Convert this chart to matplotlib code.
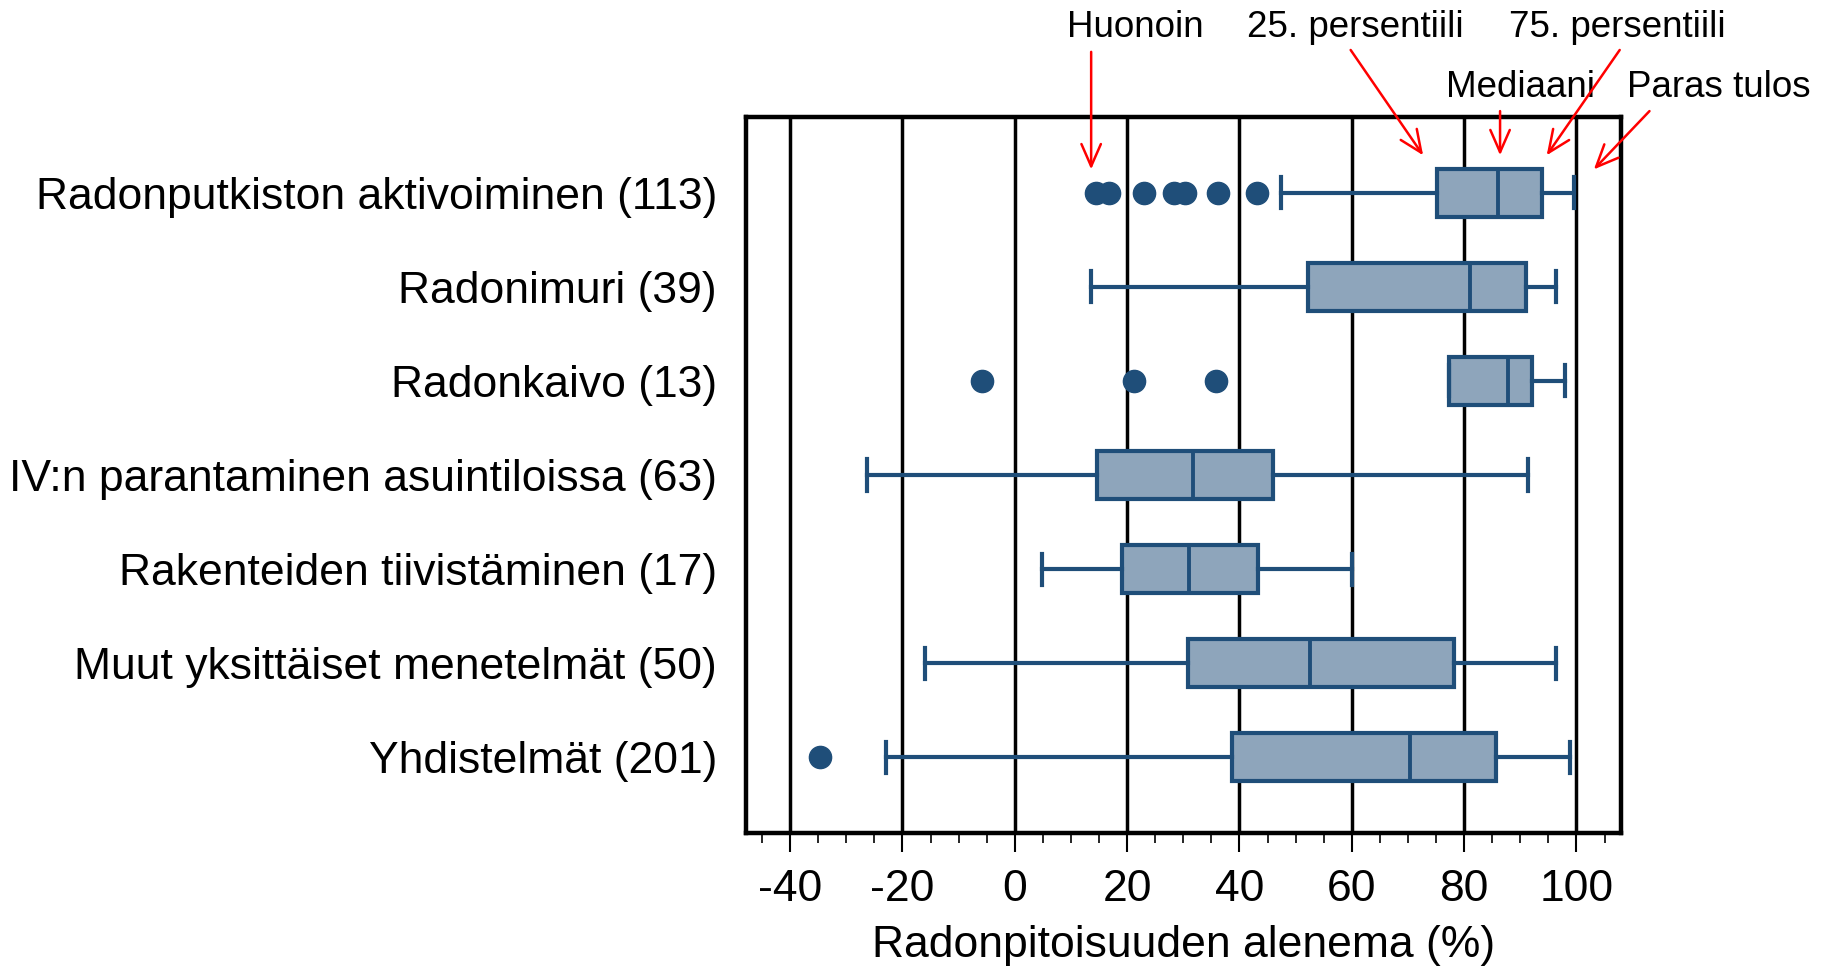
import numpy as np
import matplotlib.pyplot as plt
from matplotlib.ticker import MultipleLocator

plt.rcParams['font.family'] = ['Liberation Sans', 'DejaVu Sans']
plt.rcParams['axes.unicode_minus'] = False

categories = ["Radonputkiston aktivoiminen (113)", "Radonimuri (39)", "Radonkaivo (13)",
              "IV:n parantaminen asuintiloissa (63)", "Rakenteiden tiivistäminen (17)",
              "Muut yksittäiset menetelmät (50)", "Yhdistelmät (201)"]
whislo = [47.4, 13.6, 77.3, -26.3, 4.8, -15.9, -22.9]
q1 = [75.2, 52.2, 77.3, 14.7, 19.1, 30.9, 38.6]
med = [86.1, 81.0, 87.9, 31.8, 31.1, 52.5, 70.3]
q3 = [93.9, 91.0, 92.0, 46.0, 43.3, 78.2, 85.7]
whishi = [99.6, 96.4, 98.0, 91.3, 60.0, 96.3, 98.8]
fliers = [[14.5, 16.8, 23.0, 28.4, 30.3, 36.1, 43.2], [], [-5.8, 21.3, 35.9],
          [], [], [], [-34.7]]

# annotation labels: text (x, baseline y), arrow tail and tip in data coords
notes = ["Huonoin", "25. persentiili", "Mediaani", "75. persentiili", "Paras tulos"]
note_xy = [(21.5, -1.66), (60.6, -1.66), (90.0, -1.02), (107.2, -1.66), (125.4, -1.02)]
arrow_from = [(13.6, -1.50), (59.8, -1.52), (86.4, -0.87), (107.7, -1.52), (113.0, -0.87)]
arrow_to = [(13.6, -0.25), (72.7, -0.40), (86.4, -0.40), (94.7, -0.40), (103.1, -0.25)]

dark = '#1F4E79'
fill = '#8EA5BB'

stats = []
for i in range(len(categories)):
    stats.append(dict(label=categories[i], whislo=whislo[i], q1=q1[i], med=med[i],
                      q3=q3[i], whishi=whishi[i], fliers=fliers[i]))

fig = plt.figure(figsize=(18.3, 9.68), dpi=100)
ax = fig.add_axes([0.4078, 0.1392, 0.4779, 0.7402])

ax.bxp(stats, positions=np.arange(len(categories)), orientation='horizontal',
       widths=0.51, capwidths=0.33, patch_artist=True,
       boxprops=dict(facecolor=fill, edgecolor=dark, linewidth=3),
       medianprops=dict(color=dark, linewidth=2.8),
       whiskerprops=dict(color=dark, linewidth=3),
       capprops=dict(color=dark, linewidth=3),
       flierprops=dict(marker='o', markerfacecolor=dark, markeredgecolor=dark,
                       markersize=16, linestyle='none'))

ax.set_xlim(-47.8, 107.9)
ax.set_ylim(len(categories) - 1 + 0.81, -0.81)
ax.set_yticks(np.arange(len(categories)))
ax.set_yticklabels(categories)
ax.xaxis.set_major_locator(MultipleLocator(20))
ax.xaxis.set_minor_locator(MultipleLocator(5))
ax.set_xticks(np.arange(-40, 101, 20))
ax.tick_params(axis='y', length=0, pad=21, labelsize=32)
ax.tick_params(axis='x', which='major', length=13.5, width=1.5, pad=12, labelsize=32)
ax.tick_params(axis='x', which='minor', length=7, width=1.2)
ax.set_xlabel("Radonpitoisuuden alenema (%)", fontsize=32, labelpad=11)

ax.set_axisbelow(True)
ax.grid(axis='x', which='major', color='black', linewidth=2.5)
for s in ax.spines.values():
    s.set_linewidth(3.2)

for t, xy in zip(notes, note_xy):
    ax.text(xy[0], xy[1], t, fontsize=26.5, ha='center', va='baseline', clip_on=False)
for a, b in zip(arrow_from, arrow_to):
    ax.annotate('', xy=b, xytext=a, annotation_clip=False,
                arrowprops=dict(arrowstyle='->,head_length=0.8,head_width=0.35',
                                color='red', lw=1.8, mutation_scale=20,
                                shrinkA=0, shrinkB=0))

fig.savefig('out.png', dpi=100)
